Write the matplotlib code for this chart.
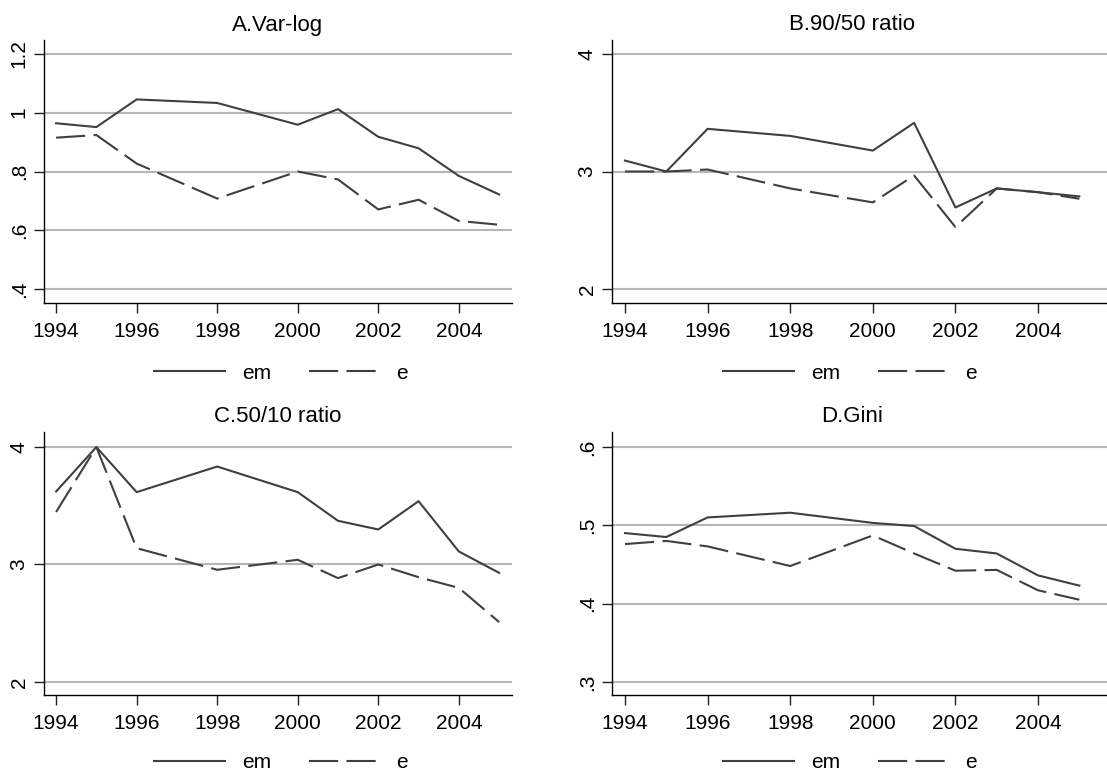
import matplotlib
matplotlib.use("Agg")
import matplotlib.pyplot as plt
import numpy as np

years = [1994, 1995, 1996, 1998, 2000, 2001, 2002, 2003, 2004, 2005]

# A. Var-log
varlog_em = [0.964, 0.951, 1.045, 1.033, 0.959, 1.012, 0.918, 0.879, 0.785, 0.722]
varlog_e = [0.915, 0.924, 0.827, 0.708, 0.800, 0.773, 0.671, 0.704, 0.632, 0.619]
# B. 90/50 ratio
r9050_em = [3.093, 3.00, 3.363, 3.303, 3.178, 3.414, 2.694, 2.856, 2.824, 2.788]
r9050_e = [3.00, 3.00, 3.017, 2.856, 2.737, 2.966, 2.527, 2.856, 2.824, 2.768]
# C. 50/10 ratio
r5010_em = [3.621, 4.00, 3.616, 3.834, 3.616, 3.372, 3.298, 3.539, 3.111, 2.929]
r5010_e = [3.447, 4.00, 3.139, 2.955, 3.040, 2.884, 3.00, 2.892, 2.801, 2.510]
# D. Gini
gini_em = [0.490, 0.485, 0.510, 0.516, 0.503, 0.499, 0.470, 0.464, 0.436, 0.423]
gini_e = [0.476, 0.480, 0.473, 0.448, 0.487, 0.464, 0.442, 0.443, 0.417, 0.405]

titles = ["A.Var-log", "B.90/50 ratio", "C.50/10 ratio", "D.Gini"]
series_labels = ["em", "e"]
xticks = [1994, 1996, 1998, 2000, 2002, 2004]
yticks_a = [0.4, 0.6, 0.8, 1.0, 1.2]
yticklabels_a = [".4", ".6", ".8", "1", "1.2"]
yticks_bc = [2, 3, 4]
yticklabels_bc = ["2", "3", "4"]
yticks_d = [0.3, 0.4, 0.5, 0.6]
yticklabels_d = [".3", ".4", ".5", ".6"]

plt.rcParams['font.family'] = ['Liberation Sans', 'DejaVu Sans']

W, H = 1107, 771
fig = plt.figure(figsize=(W / 100, H / 100), dpi=100)
fig.patch.set_facecolor('white')

line_col = '#3f3f3f'
grid_col = '#b5b5b5'
dash = (0, (14, 4))
fs = 15


def px_axes(left, top, right, bottom):
    return fig.add_axes([left / W, (H - bottom) / H, (right - left) / W, (bottom - top) / H])


# pixel boxes of each panel plot region, plus x limits, y limits
panels = [
    dict(box=(44, 40, 512, 303), xlim=(1993.70, 2005.32), ylim=(0.353, 1.247),
         em=varlog_em, e=varlog_e, yt=yticks_a, ytl=yticklabels_a,
         title_xy=(278, 25), leg_xy=(281, 373)),
    dict(box=(612, 40, 1107, 303), xlim=(1993.685, 2005.67), ylim=(1.881, 4.119),
         em=r9050_em, e=r9050_e, yt=yticks_bc, ytl=yticklabels_bc,
         title_xy=(852, 25), leg_xy=(850, 373)),
    dict(box=(44, 432, 512, 695), xlim=(1993.70, 2005.32), ylim=(1.889, 4.128),
         em=r5010_em, e=r5010_e, yt=yticks_bc, ytl=yticklabels_bc,
         title_xy=(278, 417), leg_xy=(281, 763)),
    dict(box=(612, 432, 1107, 695), xlim=(1993.685, 2005.67), ylim=(0.2834, 0.619),
         em=gini_em, e=gini_e, yt=yticks_d, ytl=yticklabels_d,
         title_xy=(852, 417), leg_xy=(850, 763)),
]

for i, p in enumerate(panels):
    ax = px_axes(*p['box'])
    for yv in p['yt']:
        ax.axhline(yv, color=grid_col, lw=1.5, zorder=1)
    h1, = ax.plot(years, p['em'], color=line_col, lw=1.5, zorder=3, label=series_labels[0])
    h2, = ax.plot(years, p['e'], color=line_col, lw=1.5, linestyle=dash, zorder=3,
                  label=series_labels[1])
    ax.set_xlim(*p['xlim'])
    ax.set_ylim(*p['ylim'])
    ax.spines['top'].set_visible(False)
    ax.spines['right'].set_visible(False)
    ax.spines['left'].set_linewidth(1.0)
    ax.spines['bottom'].set_linewidth(1.0)
    ax.set_xticks(xticks)
    ax.set_xticklabels([str(x) for x in xticks], fontsize=fs)
    ax.set_yticks(p['yt'])
    ax.set_yticklabels(p['ytl'], fontsize=fs, rotation=90, va='center')
    ax.tick_params(axis='both', direction='out', length=7, width=1.0, color='#222222', pad=4)
    ax.tick_params(axis='x', pad=7)
    fig.text(p['title_xy'][0] / W, 1 - p['title_xy'][1] / H, titles[i],
             ha='center', va='center', fontsize=16)
    fig.legend(handles=[h1, h2], loc='center', ncol=2, frameon=False, fontsize=fs,
               bbox_to_anchor=(p['leg_xy'][0] / W, 1 - p['leg_xy'][1] / H),
               handlelength=3.4, handletextpad=0.8, columnspacing=1.8)

plt.savefig('out.png', dpi=100, facecolor='white')
